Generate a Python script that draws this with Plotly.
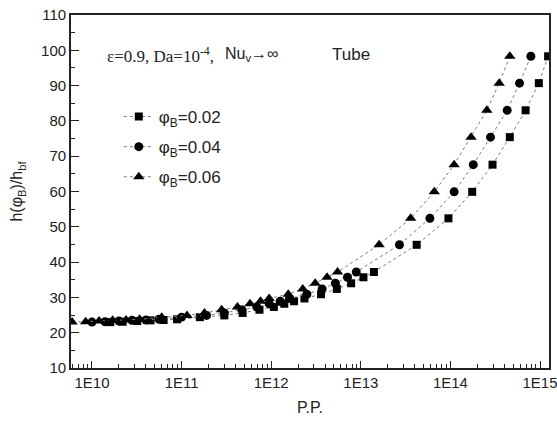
import plotly.graph_objects as go

# ---- data ----
pp_002 = [1.6e10, 2.2e10, 3.2e10, 4.5e10, 6.3e10, 8.9e10, 1.6e11, 3.0e11, 4.8e11, 7.4e11,
          1.07e12, 1.4e12, 1.8e12, 2.35e12, 3.6e12, 5.4e12, 7.8e12, 1.07e13, 1.4e13,
          4.2e13, 9.5e13, 1.75e14, 2.95e14, 4.6e14, 6.9e14, 9.7e14, 1.23e15]
pp_004 = [1.0e10, 1.4e10, 2.0e10, 2.8e10, 4.0e10, 5.6e10, 1.0e11, 1.9e11, 3.0e11, 4.7e11,
          6.9e11, 9.5e11, 1.26e12, 1.6e12, 2.5e12, 3.7e12, 5.2e12, 7.1e12, 8.9e12,
          2.7e13, 5.9e13, 1.1e14, 1.8e14, 2.8e14, 4.3e14, 5.9e14, 7.9e14]
pp_006 = [6.0e9, 8.5e9, 1.2e10, 1.7e10, 2.4e10, 3.4e10, 6.0e10, 1.15e11, 1.8e11, 2.8e11,
          4.2e11, 5.8e11, 7.6e11, 9.5e11, 1.55e12, 2.25e12, 3.1e12, 4.2e12, 5.5e12,
          1.6e13, 3.6e13, 6.6e13, 1.1e14, 1.7e14, 2.55e14, 3.5e14, 4.6e14]
h_ratio = [23.0, 23.1, 23.3, 23.5, 23.6, 23.8, 24.4, 24.9, 25.6, 26.5,
           27.3, 28.2, 28.9, 29.7, 30.9, 32.4, 34.0, 35.7, 37.2,
           44.9, 52.4, 59.9, 67.6, 75.4, 83.0, 90.7, 98.3]

series_names = ["φ<sub>B</sub>=0.02", "φ<sub>B</sub>=0.04", "φ<sub>B</sub>=0.06"]
x_tick_vals = [1e10, 1e11, 1e12, 1e13, 1e14, 1e15]
x_tick_text = ["1E10", "1E11", "1E12", "1E13", "1E14", "1E15"]

# ---- figure ----
fig = go.Figure()
series = [(pp_002, "square", 8), (pp_004, "circle", 9), (pp_006, "triangle-up", 10)]
for i, (xs, sym, sz) in enumerate(series):
    fig.add_trace(go.Scatter(
        x=xs, y=h_ratio, mode="lines+markers", name=series_names[i],
        legendgroup=f"g{i}",
        line=dict(color="#7a7a7a", width=1, dash="dot"),
        marker=dict(symbol=sym, size=sz, color="black"),
    ))

minor_x = []
for e in range(9, 16):
    for m in range(2, 10):
        minor_x.append(m * 10 ** e)

font = "Liberation Sans, Arial, sans-serif"
fig.update_layout(
    width=557, height=421,
    margin=dict(l=71, r=8, t=15, b=53),
    paper_bgcolor="white", plot_bgcolor="white",
    font=dict(family=font, size=15, color="#222"),
    showlegend=True,
    legend=dict(x=0.10, y=0.762, xanchor="left", yanchor="top",
                bgcolor="rgba(0,0,0,0)", font=dict(size=17, color="#222"),
                tracegroupgap=5, traceorder="grouped"),
    xaxis=dict(
        type="log", range=[9.766, 15.1], automargin=False,
        tickvals=x_tick_vals, ticktext=x_tick_text, ticklabeloverflow="allow",
        ticks="inside", ticklen=7, tickwidth=1.2, tickcolor="#222",
        showline=True, linecolor="#222", linewidth=1.8, mirror=True,
        showgrid=False, zeroline=False,
        minor=dict(tickvals=minor_x, ticks="inside", ticklen=4, tickwidth=1, tickcolor="#222"),
        title=dict(text="P.P.", font=dict(size=16), standoff=12),
    ),
    yaxis=dict(
        range=[10, 110], dtick=10, tick0=10, automargin=False,
        ticks="inside", ticklen=8, tickwidth=1.2, tickcolor="#222",
        showline=True, linecolor="#222", linewidth=1.8, mirror=True,
        showgrid=False, zeroline=False,
        minor=dict(dtick=5, ticks="inside", ticklen=4, tickwidth=1, tickcolor="#222"),
        title=dict(text="h(φ<sub>B</sub>)/h<sub>bf</sub>", font=dict(size=16), standoff=14),
    ),
)

fig.add_annotation(xref="paper", yref="paper", x=0.071, y=0.887, xanchor="left", yanchor="middle",
                   text="ε=0.9, Da=10<sup>-4</sup>,", showarrow=False,
                   font=dict(family="Liberation Serif, Times New Roman, serif", size=17, color="#222"))
fig.add_annotation(xref="paper", yref="paper", x=0.318, y=0.887, xanchor="left", yanchor="middle",
                   text="Nu<sub>v</sub>→∞", showarrow=False,
                   font=dict(family=font, size=16, color="#222"))
fig.add_annotation(xref="paper", yref="paper", x=0.542, y=0.887, xanchor="left", yanchor="middle",
                   text="Tube", showarrow=False,
                   font=dict(family=font, size=17, color="#222"))

fig.write_html("out.html", config={"displayModeBar": False},
               post_script="document.body.style.margin='0';")
